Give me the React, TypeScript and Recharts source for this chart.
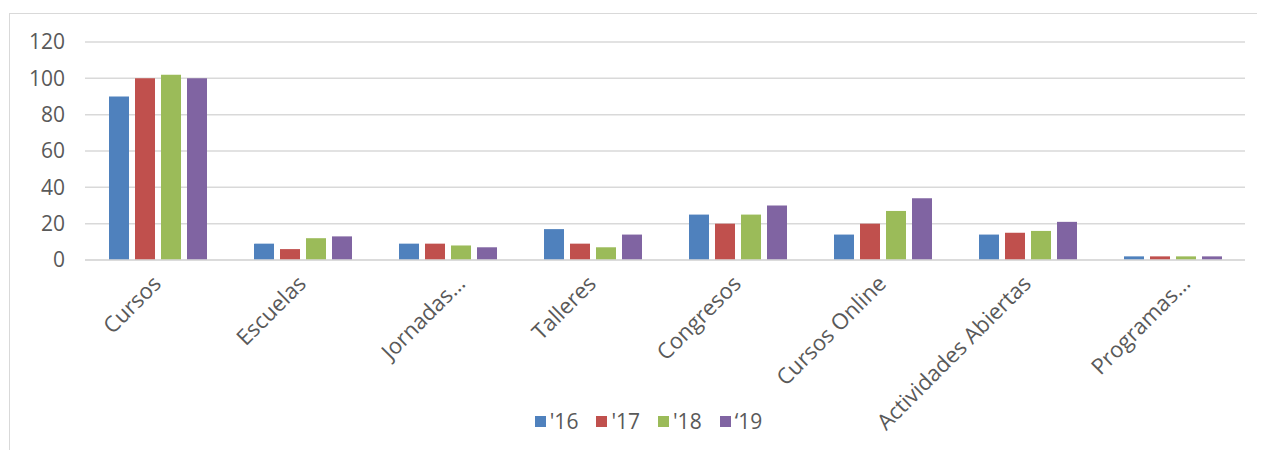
import { BarChart, Bar, XAxis, YAxis, CartesianGrid, Legend } from "recharts";

const categories = [
  "Cursos",
  "Escuelas",
  "Jornadas…",
  "Talleres",
  "Congresos",
  "Cursos Online",
  "Actividades Abiertas",
  "Programas…",
];

const y16 = [90, 9, 9, 17, 25, 14, 14, 2];
const y17 = [100, 6, 9, 9, 20, 20, 15, 2];
const y18 = [102, 12, 8, 7, 25, 27, 16, 2];
const y19 = [100, 13, 7, 14, 30, 34, 21, 2];

const yTicks = [0, 20, 40, 60, 80, 100, 120];

const series = [
  { key: "s16", name: "'16", color: "#4F81BD" },
  { key: "s17", name: "'17", color: "#C0504D" },
  { key: "s18", name: "'18", color: "#9BBB59" },
  { key: "s19", name: "‘19", color: "#8064A2" },
];

const data = categories.map((name, i) => ({
  name,
  s16: y16[i],
  s17: y17[i],
  s18: y18[i],
  s19: y19[i],
}));

const FONT = "'Open Sans', 'Noto Sans', sans-serif";
const GREY = "#595959";

const AngledTick = ({ x, y, payload }: any) => {
  const label: string = payload.value;
  // Excel places truncated labels a bit further right
  const extra = label.endsWith("…") ? 14 : 0;
  return (
    <g transform={`translate(${x + 5 + extra},${y + 17})`}>
      <text
        textAnchor="end"
        transform="rotate(-45)"
        fill={GREY}
        fontSize={22}
        fontFamily={FONT}
      >
        {label}
      </text>
    </g>
  );
};

const LegendContent = () => (
  <div
    style={{
      display: "flex",
      justifyContent: "center",
      alignItems: "center",
      height: 26,
      fontFamily: FONT,
      fontSize: 21,
      color: GREY,
      paddingLeft: 60,
    }}
  >
    {series.map((s) => (
      <span key={s.key} style={{ display: "flex", alignItems: "center", marginRight: 18 }}>
        <span
          style={{
            display: "inline-block",
            width: 11,
            height: 11,
            background: s.color,
            marginRight: 4,
          }}
        />
        {s.name}
      </span>
    ))}
  </div>
);

const App = () => {
  return (
    <div
      style={{
        marginLeft: 1,
        marginTop: 5,
        width: 1262,
        height: 437,
        border: "1px solid #d9d9d9",
        background: "#fff",
      }}
    >
      <BarChart
        width={1255}
        height={436}
        data={data}
        margin={{ top: 28, right: 20, left: 0, bottom: 16 }}
        barSize={20}
        barGap={6}
      >
        <CartesianGrid vertical={false} stroke="#d9d9d9" strokeWidth={1.5} />
        <XAxis
          dataKey="name"
          interval={0}
          height={148}
          tickLine={false}
          axisLine={{ stroke: "#d9d9d9", strokeWidth: 1.5 }}
          tick={<AngledTick />}
        />
        <YAxis
          width={75}
          domain={[0, 120]}
          ticks={yTicks}
          axisLine={false}
          tickLine={false}
          tickSize={0}
          tickMargin={20}
          tick={{ fill: GREY, fontSize: 21, fontFamily: FONT }}
        />
        <Legend verticalAlign="bottom" height={26} content={<LegendContent />} />
        {series.map((s) => (
          <Bar
            key={s.key}
            dataKey={s.key}
            name={s.name}
            fill={s.color}
            isAnimationActive={false}
          />
        ))}
      </BarChart>
    </div>
  );
};

export default App;
